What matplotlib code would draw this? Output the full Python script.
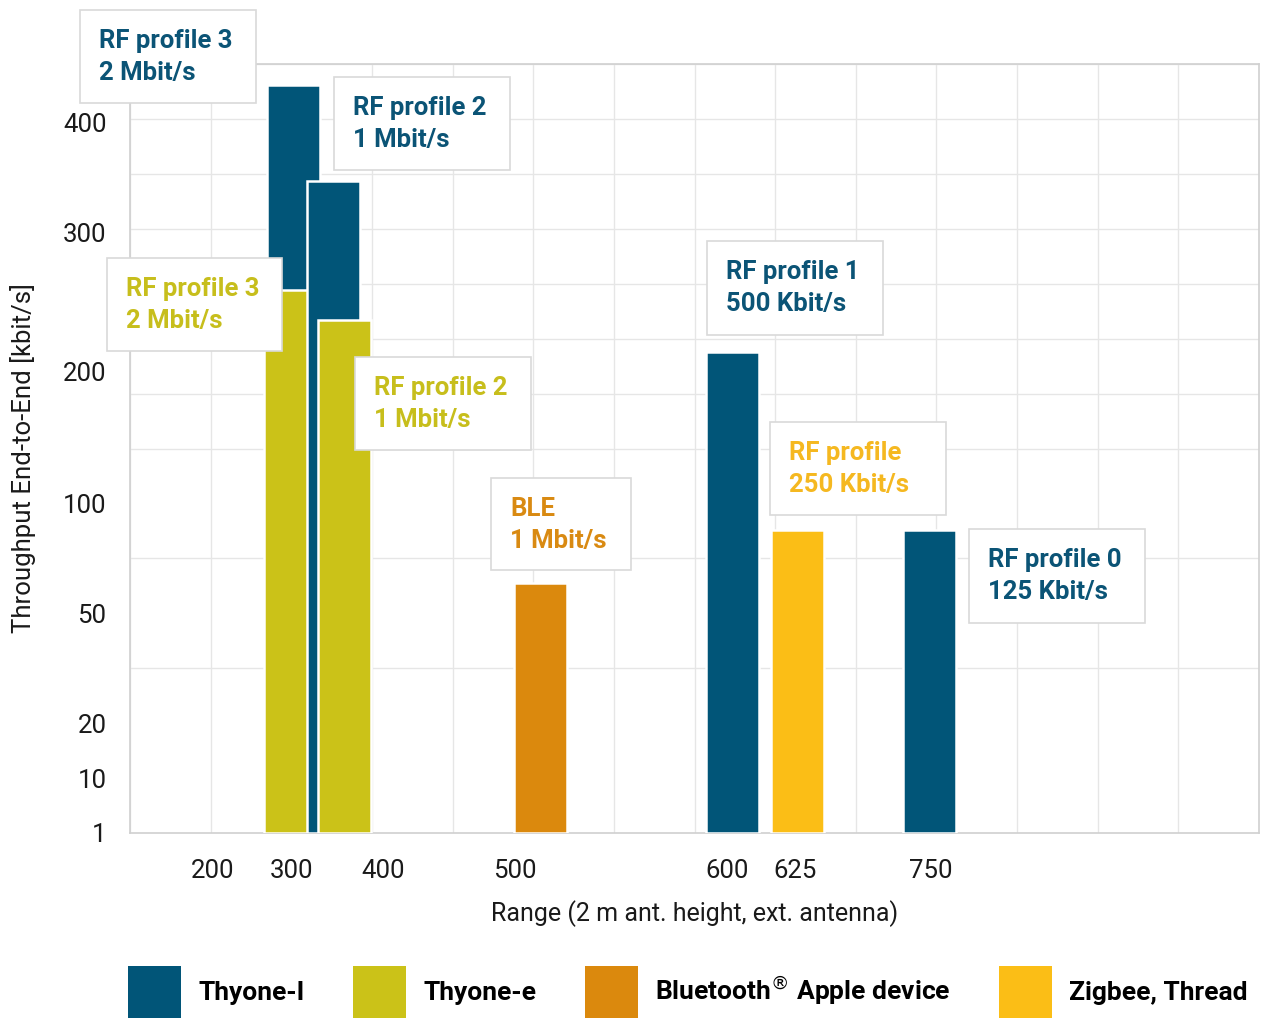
import numpy as np
import matplotlib
matplotlib.use("Agg")
import matplotlib.pyplot as plt
from matplotlib.patches import Patch, Rectangle

plt.rcParams['font.family'] = ['Roboto', 'DejaVu Sans']

# ---- data ----
series_names = ['Thyone-I', 'Thyone-e', r'Bluetooth$^{\circledR}$ Apple device', 'Zigbee, Thread']
series_colors = ['#015578', '#cbc218', '#db890d', '#fbbe16']
text_colors = ['#0b5476', '#c7be1c', '#d98a12', '#f5b820']

bar_range = [302, 299, 346, 358, 512, 602, 627, 749]         # m
bar_throughput = [432, 258, 347, 237, 64, 214, 88, 88]        # kbit/s
bar_series = [0, 1, 0, 1, 2, 0, 3, 0]

label_line1 = ['RF profile 3', 'RF profile 3', 'RF profile 2', 'RF profile 2',
               'BLE', 'RF profile 1', 'RF profile', 'RF profile 0']
label_line2 = ['2 Mbit/s', '2 Mbit/s', '1 Mbit/s', '1 Mbit/s',
               '1 Mbit/s', '500 Kbit/s', '250 Kbit/s', '125 Kbit/s']

x_ticks = [200, 300, 400, 500, 600, 625, 750]
y_ticks = [1, 10, 20, 50, 100, 200, 300, 400]

# ---- custom (piecewise) axis scales, in grid-cell units ----
x_anchor_val = [100, 200, 300, 400, 500, 600, 625, 750, 1000]
x_anchor_pos = [0, 1.02, 2.0, 3.14, 4.77, 7.40, 8.25, 9.93, 14]
y_anchor_val = [1, 10, 20, 50, 100, 200, 300, 400, 450]
y_anchor_pos = [0, 1, 2, 4, 6, 8.41, 10.94, 12.93, 14]


def xf(v):
    return np.interp(v, x_anchor_val, x_anchor_pos)


def xi(p):
    return np.interp(p, x_anchor_pos, x_anchor_val)


def yf(v):
    return np.interp(v, y_anchor_val, y_anchor_pos)


def yi(p):
    return np.interp(p, y_anchor_pos, y_anchor_val)


W, H = 1273, 1028
fig = plt.figure(figsize=(W / 100, H / 100), dpi=100)
ax = fig.add_axes([130 / W, 1 - 833 / H, (1259 - 130) / W, (833 - 64) / H])

ax.set_xscale('function', functions=(xf, xi))
ax.set_yscale('function', functions=(yf, yi))
ax.set_xlim(100, 1000)
ax.set_ylim(1, 450)

# bars, fixed visual width on the nonlinear scale
half_w = 0.33
for rng, val, s in zip(bar_range, bar_throughput, bar_series):
    left = xi(xf(rng) - half_w)
    right = xi(xf(rng) + half_w)
    ax.bar(left, val - 1, width=right - left, bottom=1, align='edge',
           color=series_colors[s], edgecolor='white', linewidth=1.8, zorder=3)

# ticks and grid
ax.set_xticks(x_ticks)
ax.set_xticklabels([str(t) for t in x_ticks])
ax.set_yticks(y_ticks)
ax.set_yticklabels([str(t) for t in y_ticks])
ax.set_xticks(xi(np.arange(15)), minor=True)
ax.set_yticks(yi(np.arange(15)), minor=True)
ax.grid(which='minor', color='#e6e6e6', linewidth=1)
ax.grid(which='major', visible=False)
ax.tick_params(which='both', length=0)
ax.tick_params(axis='x', which='major', pad=19, labelsize=18.5, labelcolor='#1a1a1a')
ax.tick_params(axis='y', which='major', pad=17, labelsize=18.5, labelcolor='#1a1a1a')
ax.set_axisbelow(True)
for sp in ax.spines.values():
    sp.set_color('#d0d0d0')
    sp.set_linewidth(1.2)

ax.set_xlabel('Range (2 m ant. height, ext. antenna)', fontsize=18,
              color='#1a1a1a', labelpad=12)
ax.set_ylabel('Throughput End-to-End [kbit/s]', fontsize=18.5,
              color='#1a1a1a')
ax.yaxis.set_label_coords(-0.083, 0.4876)

# annotation boxes (pixel layout: left, top, right, bottom), same order as bars
boxes = [(80, 10, 256, 103), (107, 258, 282, 351), (334, 77, 510, 170),
         (355, 357, 531, 450), (491, 478, 631, 570), (707, 241, 883, 335),
         (770, 422, 946, 515), (969, 529, 1145, 623)]
for (l, t, r, b), s, t1, t2 in zip(boxes, bar_series, label_line1, label_line2):
    fig.add_artist(Rectangle((l / W, 1 - b / H), (r - l) / W, (b - t) / H,
                             transform=fig.transFigure, facecolor='white',
                             edgecolor='#d9d9d9', linewidth=1.2, zorder=5))
    for k, line in enumerate([t1, t2]):
        fig.text((l + 19) / W, 1 - (t + 31 + 32 * k) / H, line,
                 color=text_colors[s], fontsize=18.5, fontweight='bold',
                 ha='left', va='center', zorder=6)

# legend
handles = [Patch(facecolor=c, edgecolor='none') for c in series_colors]
fig.legend(handles, series_names, loc='center', bbox_to_anchor=(688 / W, 1 - 992 / H),
           ncol=4, frameon=False, prop={'weight': 'bold', 'size': 19},
           handlelength=2.0, handleheight=2.65, handletextpad=0.65,
           columnspacing=1.85)

fig.savefig('out.png', dpi=100)
